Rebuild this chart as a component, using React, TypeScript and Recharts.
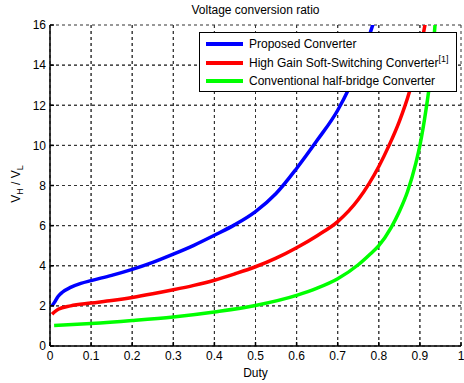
import React from "react";
import { CartesianGrid, Label, Legend, Line, LineChart, ReferenceLine, XAxis, YAxis } from "recharts";

// duty cycle -> voltage gain
const proposedDuty = [0.005, 0.01, 0.02, 0.03, 0.05, 0.075, 0.1, 0.15, 0.2, 0.25, 0.3, 0.35, 0.4, 0.45, 0.5, 0.55, 0.6, 0.65, 0.7, 0.75, 0.79];
const proposedGain = [2.0, 2.15, 2.48, 2.68, 2.92, 3.12, 3.26, 3.52, 3.82, 4.17, 4.58, 5.02, 5.52, 6.05, 6.7, 7.6, 8.85, 10.25, 11.75, 13.9, 16.3];

const softDuty = [0.005, 0.01, 0.02, 0.05, 0.1, 0.15, 0.2, 0.25, 0.3, 0.35, 0.4, 0.45, 0.5, 0.55, 0.6, 0.65, 0.7, 0.75, 0.8, 0.825, 0.85, 0.875, 0.9, 0.915];
const softGain = [1.58, 1.68, 1.83, 2.0, 2.14, 2.27, 2.42, 2.6, 2.8, 3.02, 3.28, 3.6, 3.95, 4.38, 4.9, 5.5, 6.2, 7.3, 8.95, 10.0, 11.2, 12.7, 14.7, 16.3];

const halfBridgeDuty = [0.01, 0.1, 0.2, 0.3, 0.4, 0.5, 0.6, 0.65, 0.7, 0.75, 0.78, 0.8, 0.83, 0.85, 0.87, 0.89, 0.9, 0.915, 0.925, 0.938];
const halfBridgeGain = [1.02, 1.12, 1.27, 1.45, 1.7, 2.02, 2.52, 2.88, 3.35, 4.05, 4.6, 5.0, 5.9, 6.7, 7.7, 9.1, 10.0, 11.8, 13.3, 16.3];

const dutyTicks = [0, 0.1, 0.2, 0.3, 0.4, 0.5, 0.6, 0.7, 0.8, 0.9, 1];
const gainTicks = [0, 2, 4, 6, 8, 10, 12, 14, 16];

const seriesNames = [
  "Proposed Converter",
  "High Gain Soft-Switching Converter",
  "Conventional half-bridge Converter",
];
const seriesColors = ["#0000ff", "#ff0000", "#00ff00"];

const toPoints = (duty: number[], gain: number[]) => duty.map((d, i) => ({ duty: d, gain: gain[i] }));

const proposed = toPoints(proposedDuty, proposedGain);
const soft = toPoints(softDuty, softGain);
const halfBridge = toPoints(halfBridgeDuty, halfBridgeGain);

const FONT = '"Liberation Sans", Arial, sans-serif';
const GRID = "#333";

function LegendBox() {
  return (
    <div
      style={{
        position: "relative",
        width: 258,
        height: 60,
        boxSizing: "border-box",
        border: "1.5px solid #000",
        background: "#fff",
        fontFamily: FONT,
        fontSize: 12,
        color: "#000",
      }}
    >
      {seriesNames.map((name, i) => (
        <div key={name} style={{ position: "absolute", left: 0, top: 3 + i * 18.7, height: 16, width: "100%" }}>
          <div style={{ position: "absolute", left: 6, top: 6, width: 37, height: 4, background: seriesColors[i] }} />
          <div style={{ position: "absolute", left: 49, top: 0, whiteSpace: "nowrap", lineHeight: "16px" }}>
            {name}
            {i === 1 && <sup style={{ fontSize: 9, verticalAlign: 5, lineHeight: 0 }}>[1]</sup>}
          </div>
        </div>
      ))}
    </div>
  );
}

function GainLabel() {
  return (
    <text transform="translate(20,184) rotate(-90)" textAnchor="middle" fontSize={12} fill="#000" fontFamily={FONT}>
      <tspan>V</tspan>
      <tspan fontSize={9} dy={3}>H</tspan>
      <tspan dy={-3}> / V</tspan>
      <tspan fontSize={9} dy={3}>L</tspan>
    </text>
  );
}

export default function App() {
  return (
    <div style={{ position: "absolute", left: 0, top: 0, width: 464, height: 383, background: "#fff", fontFamily: FONT }}>
      <div style={{ position: "absolute", left: 50, width: 411, top: 3, textAlign: "center", fontSize: 12, color: "#000" }}>
        Voltage conversion ratio
      </div>
      <LineChart width={464} height={383} data={halfBridge} margin={{ top: 25, right: 3, bottom: 0, left: 0 }}>
        <CartesianGrid stroke={GRID} strokeDasharray="3 3" horizontalValues={gainTicks} verticalValues={dutyTicks} />
        <XAxis
          dataKey="duty"
          type="number"
          domain={[0, 1]}
          ticks={dutyTicks}
          allowDataOverflow
          height={37}
          stroke="#000"
          strokeWidth={1.5}
          tickSize={-4}
          tickMargin={9}
          tick={{ fontSize: 12, fill: "#000" }}
          tickFormatter={(v: number) => String(v)}
        >
          <Label value="Duty" position="insideBottom" offset={6} style={{ fontSize: 12, fill: "#000" }} />
        </XAxis>
        <XAxis
          xAxisId="t"
          orientation="top"
          dataKey="duty"
          type="number"
          domain={[0, 1]}
          ticks={dutyTicks}
          allowDataOverflow
          height={0}
          stroke="#000"
          strokeWidth={1.5}
          tickSize={-4}
          tickFormatter={() => ""}
        />
        <YAxis
          type="number"
          domain={[0, 16]}
          ticks={gainTicks}
          allowDataOverflow
          width={50}
          stroke="#000"
          strokeWidth={1.5}
          tickSize={-4}
          tickMargin={8}
          tick={{ fontSize: 12, fill: "#000" }}
        >
          <Label content={() => <GainLabel />} />
        </YAxis>
        <YAxis
          yAxisId="r"
          orientation="right"
          type="number"
          domain={[0, 16]}
          ticks={gainTicks}
          allowDataOverflow
          width={0}
          stroke="#000"
          strokeWidth={1.5}
          tickSize={-4}
          tickFormatter={() => ""}
        />
        {dutyTicks.slice(1, -1).map((d) => (
          <ReferenceLine key={"x" + d} x={d} stroke={GRID} strokeDasharray="3 3" ifOverflow="visible" />
        ))}
        {gainTicks.slice(1, -1).map((g) => (
          <ReferenceLine key={"y" + g} y={g} stroke={GRID} strokeDasharray="3 3" ifOverflow="visible" />
        ))}
        <Line dataKey="gain" type="monotone" stroke={seriesColors[2]} strokeWidth={3.5} dot={false} isAnimationActive={false} />
        <Line data={soft} dataKey="gain" type="monotone" stroke={seriesColors[1]} strokeWidth={3.5} dot={false} isAnimationActive={false} />
        <Line data={proposed} dataKey="gain" type="monotone" stroke={seriesColors[0]} strokeWidth={3.5} dot={false} isAnimationActive={false} />
        <Legend
          layout="vertical"
          align="center"
          verticalAlign="middle"
          wrapperStyle={{ left: 199, top: 32, width: 258, height: 60 }}
          content={() => <LegendBox />}
        />
      </LineChart>
    </div>
  );
}
